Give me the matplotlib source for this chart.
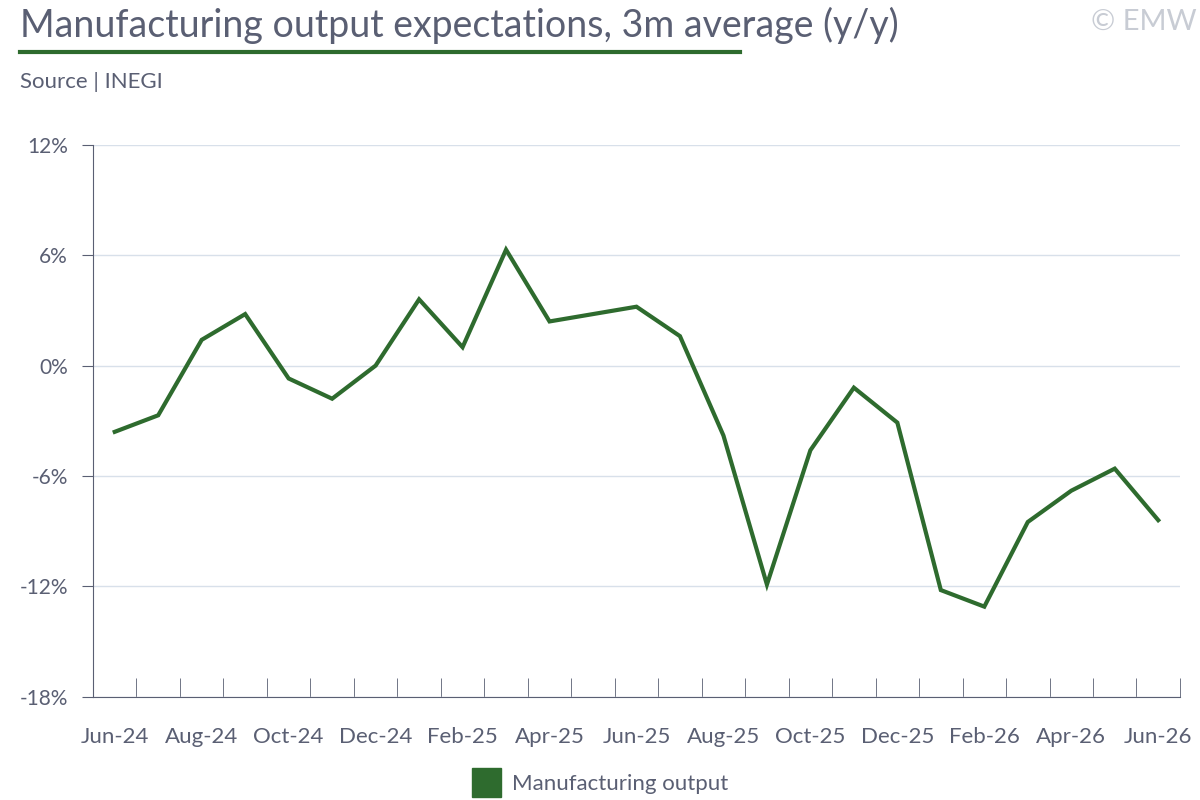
import matplotlib
matplotlib.use('Agg')
import matplotlib.pyplot as plt
from matplotlib.patches import Patch

plt.rcParams.update({'font.family': ['Lato', 'DejaVu Sans']})

months = ['Jun-24', 'Jul-24', 'Aug-24', 'Sep-24', 'Oct-24', 'Nov-24', 'Dec-24',
          'Jan-25', 'Feb-25', 'Mar-25', 'Apr-25', 'May-25', 'Jun-25', 'Jul-25',
          'Aug-25', 'Sep-25', 'Oct-25', 'Nov-25', 'Dec-25', 'Jan-26', 'Feb-26',
          'Mar-26', 'Apr-26', 'May-26', 'Jun-26']
output = [-3.6, -2.7, 1.4, 2.8, -0.7, -1.8, 0.0, 3.6, 1.0, 6.3, 2.4, 2.8, 3.2,
          1.6, -3.8, -11.9, -4.6, -1.2, -3.1, -12.2, -13.1, -8.5, -6.8, -5.6, -8.4]
yticks = [-18, -12, -6, 0, 6, 12]

green = '#2e6b2e'
grey = '#5a5f73'

fig = plt.figure(figsize=(12, 8), dpi=100)
ax = fig.add_axes([0.0775, 0.129, 0.9058, 0.69])
x = list(range(len(months)))
ax.plot(x, output, color=green, lw=3, solid_joinstyle='miter')
ax.set_xlim(-0.5, len(months) - 0.5)
ax.set_ylim(-18, 12)
ax.set_yticks(yticks)
ax.set_yticklabels([f'{v}%' for v in yticks], fontsize=15, color=grey)
ax.set_xticks(x[::2])
ax.set_xticklabels(months[::2], fontsize=16, color=grey)
ax.set_xticks([i + 0.5 for i in x[:-1]] + [-0.5, len(months) - 0.5], minor=True)
ax.tick_params(axis='x', which='major', length=0, pad=22)
ax.tick_params(axis='x', which='minor', length=14, color=grey, direction='in')
ax.tick_params(axis='y', length=8, color=grey, direction='out', pad=10)
ax.grid(axis='y', color='#d8e0ea', lw=1)
ax.set_axisbelow(True)
for s in ['top', 'right']:
    ax.spines[s].set_visible(False)
for s in ['left', 'bottom']:
    ax.spines[s].set_color(grey)

fig.text(0.017, 0.968, 'Manufacturing output expectations, 3m average (y/y)',
         fontsize=27, color=grey, va='center')
fig.add_artist(plt.Line2D([0.017, 0.617], [0.935, 0.935], color=green, lw=3))
fig.text(0.017, 0.898, 'Source | INEGI', fontsize=16, color=grey, va='center')
fig.text(0.997, 0.973, '© EMW', fontsize=21, color='#c8ccd4', ha='right', va='center')
fig.legend(handles=[Patch(color=green, label='Manufacturing output')],
           loc='center', bbox_to_anchor=(0.5, 0.022), frameon=False,
           fontsize=16, labelcolor=grey, handlelength=1.3, handleheight=1.6,
           handletextpad=0.5)

fig.savefig('out.png')
